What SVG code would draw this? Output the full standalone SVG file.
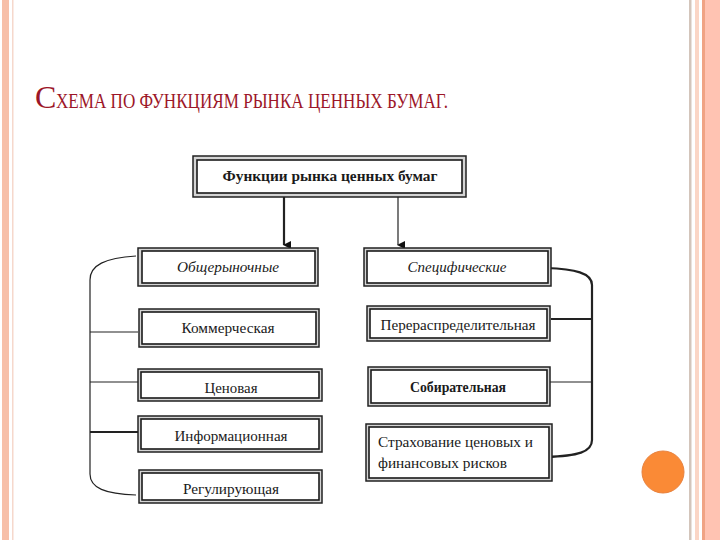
<svg xmlns="http://www.w3.org/2000/svg" width="720" height="540" viewBox="0 0 720 540">
<style>
.frame-o{fill:#d4d4d4;stroke:#222;stroke-width:1.5}
.frame-i{fill:#fff;stroke:#1a1a1a;stroke-width:1.6}
.t{font-family:"Liberation Serif","Times New Roman",serif;font-size:15px;fill:#1a1a1a;text-anchor:middle}
.it{font-style:italic}
.b{font-weight:bold}
.ln{fill:none;stroke:#222;stroke-width:1.2}
.lnb{fill:none;stroke:#222;stroke-width:2.2}
</style>
<defs>
<marker id="ah" markerWidth="8" markerHeight="8" refX="4" refY="7" orient="auto-start-reverse" markerUnits="userSpaceOnUse" viewBox="0 0 8 8">
<path d="M0,0 L8,0 L4,8 Z" fill="#111"/>
</marker>
</defs>
<rect x="0" y="0" width="720" height="540" fill="#fff"/>
<!-- borders -->
<rect x="2" y="0" width="7" height="540" fill="#f7bfa8"/>
<rect x="12" y="0" width="1.5" height="540" fill="#f6d8cc"/>
<rect x="689" y="0" width="2.5" height="540" fill="#d3c5bb"/>
<rect x="695" y="0" width="4" height="540" fill="#fbd6c6"/>
<rect x="702" y="0" width="3" height="540" fill="#f0a384"/>
<rect x="705" y="0" width="15" height="540" fill="#ffc3b2"/>
<circle cx="663" cy="472" r="21" fill="#fa8a36" stroke="#e8823e" stroke-width="1"/>
<!-- title -->
<text x="35" y="108" font-family="Liberation Serif,'Times New Roman',serif" font-size="32" fill="#9c1628">С</text>
<text x="56" y="108" font-family="Liberation Serif,'Times New Roman',serif" font-size="22" fill="#9c1628" textLength="392" lengthAdjust="spacingAndGlyphs">ХЕМА ПО ФУНКЦИЯМ РЫНКА ЦЕННЫХ БУМАГ.</text>
<!-- connectors -->
<g id="connectors">
<line x1="284" y1="197" x2="284" y2="245" class="lnb" marker-end="url(#ah)"/>
<line x1="398" y1="197" x2="398" y2="245" class="ln" marker-end="url(#ah)"/>
<path class="ln" d="M136,256 C105,258 90,265 90,280 L90,474 C90,488 105,494 136,495"/>
<line class="ln" x1="90" y1="332" x2="138" y2="332"/>
<line class="ln" x1="90" y1="382" x2="138" y2="382"/>
<line class="lnb" x1="90" y1="432" x2="138" y2="432"/>
<path class="lnb" d="M546,268 C575,269 592,273 592,285 L592,440 C592,452 578,456 546,457"/>
<line class="lnb" x1="551" y1="319" x2="592" y2="319"/>
<line class="ln" x1="550" y1="382" x2="592" y2="382"/>
</g>
<!-- nodes -->
<g id="n-root">
<rect class="frame-o" x="193" y="156" width="273" height="41"/>
<rect class="frame-i" x="197" y="160" width="265" height="33"/>
<text class="t b" x="330" y="181" font-size="14" textLength="215" lengthAdjust="spacingAndGlyphs">Функции рынка ценных бумаг</text>
</g>
<g id="n-obsh">
<rect class="frame-o" x="138" y="248" width="180" height="38"/>
<rect class="frame-i" x="142" y="251" width="173" height="32"/>
<text class="t it" x="228" y="272" textLength="102" lengthAdjust="spacingAndGlyphs">Общерыночные</text>
</g>
<g id="n-komm">
<rect class="frame-o" x="139" y="309" width="180" height="38"/>
<rect class="frame-i" x="142" y="312" width="174" height="32"/>
<text class="t" x="228" y="333" textLength="93" lengthAdjust="spacingAndGlyphs">Коммерческая</text>
</g>
<g id="n-cen">
<rect class="frame-o" x="138" y="369" width="184" height="32"/>
<rect class="frame-i" x="141" y="372" width="178" height="26"/>
<text class="t" x="231" y="393" textLength="53" lengthAdjust="spacingAndGlyphs">Ценовая</text>
</g>
<g id="n-info">
<rect class="frame-o" x="138" y="416" width="184" height="36"/>
<rect class="frame-i" x="141" y="419" width="178" height="30"/>
<text class="t" x="231" y="441" textLength="113" lengthAdjust="spacingAndGlyphs">Информационная</text>
</g>
<g id="n-reg">
<rect class="frame-o" x="139" y="470" width="183" height="33"/>
<rect class="frame-i" x="142" y="473" width="177" height="27"/>
<text class="t" x="231" y="494" textLength="96" lengthAdjust="spacingAndGlyphs">Регулирующая</text>
</g>
<g id="n-spec">
<rect class="frame-o" x="364" y="248" width="187" height="38"/>
<rect class="frame-i" x="367" y="251" width="181" height="32"/>
<text class="t it" x="457" y="272" textLength="99" lengthAdjust="spacingAndGlyphs">Специфические</text>
</g>
<g id="n-perer">
<rect class="frame-o" x="367" y="306" width="183" height="35"/>
<rect class="frame-i" x="370" y="309" width="177" height="29"/>
<text class="t" x="458" y="330" textLength="155" lengthAdjust="spacingAndGlyphs">Перераспределительная</text>
</g>
<g id="n-sobir">
<rect class="frame-o" x="368" y="367" width="182" height="39"/>
<rect class="frame-i" x="371" y="370" width="176" height="33"/>
<text class="t b" x="458" y="392" textLength="96" lengthAdjust="spacingAndGlyphs">Собирательная</text>
</g>
<g id="n-strah">
<rect class="frame-o" x="366" y="424" width="186" height="57"/>
<rect class="frame-i" x="369" y="427" width="180" height="51"/>
<text class="t" x="378" y="447" style="text-anchor:start" textLength="155" lengthAdjust="spacingAndGlyphs">Страхование ценовых и</text>
<text class="t" x="378" y="468" style="text-anchor:start" textLength="129" lengthAdjust="spacingAndGlyphs">финансовых рисков</text>
</g>
</svg>
